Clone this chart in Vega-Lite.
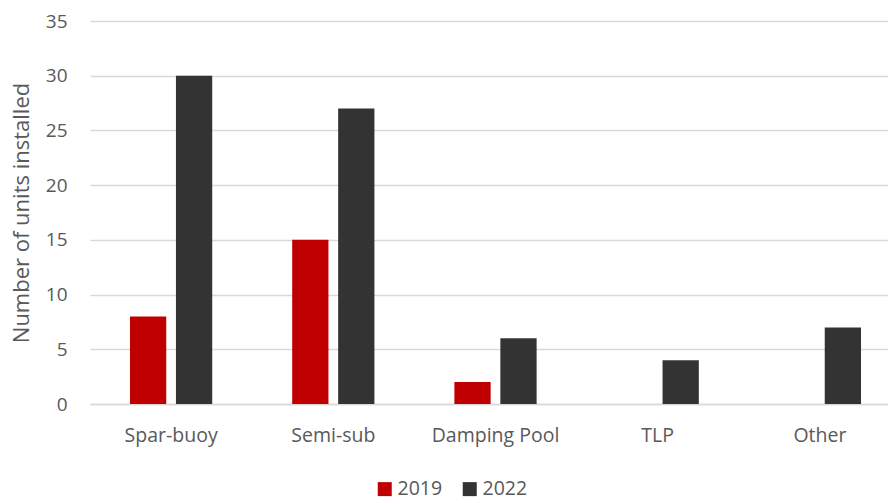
{
  "$schema": "https://vega.github.io/schema/vega-lite/v6.json",
  "width": 811,
  "height": 383,
  "autosize": {"type": "none"},
  "padding": {"left": 90, "top": 21, "right": 0, "bottom": 96},
  "background": "white",
  "data": {
    "values": [
      {"type": "Spar-buoy", "year": "2019", "units": 8},
      {"type": "Spar-buoy", "year": "2022", "units": 30},
      {"type": "Semi-sub", "year": "2019", "units": 15},
      {"type": "Semi-sub", "year": "2022", "units": 27},
      {"type": "Damping Pool", "year": "2019", "units": 2},
      {"type": "Damping Pool", "year": "2022", "units": 6},
      {"type": "TLP", "year": "2022", "units": 4},
      {"type": "Other", "year": "2022", "units": 7}
    ]
  },
  "mark": {"type": "bar"},
  "encoding": {
    "x": {
      "field": "type",
      "type": "nominal",
      "sort": ["Spar-buoy", "Semi-sub", "Damping Pool", "TLP", "Other"],
      "scale": {"paddingInner": 0.493, "paddingOuter": 0.2465},
      "axis": {
        "title": null,
        "labelAngle": 0,
        "labelFont": "Open Sans",
        "labelFontSize": 19.5,
        "labelColor": "#595959",
        "labelPadding": 22,
        "ticks": false,
        "domainColor": "#D9D9D9",
        "domainWidth": 1.5
      }
    },
    "xOffset": {
      "field": "year",
      "type": "nominal",
      "scale": {"domain": ["2019", "2022"], "paddingInner": 0.211, "paddingOuter": 0}
    },
    "y": {
      "field": "units",
      "type": "quantitative",
      "scale": {"domain": [0, 35]},
      "axis": {
        "title": "Number of units installed",
        "titleFont": "Open Sans",
        "titleFontSize": 22,
        "titleFontWeight": "normal",
        "titleColor": "#595959",
        "titlePadding": 12,
        "values": [0, 5, 10, 15, 20, 25, 30, 35],
        "labelFont": "Open Sans",
        "labelFontSize": 19,
        "labelColor": "#595959",
        "labelPadding": 23,
        "ticks": false,
        "domain": false,
        "gridColor": "#D9D9D9",
        "gridWidth": 1.5
      }
    },
    "color": {
      "field": "year",
      "type": "nominal",
      "scale": {"domain": ["2019", "2022"], "range": ["#C00000", "#333333"]},
      "legend": {
        "title": null,
        "orient": "none",
        "direction": "horizontal",
        "legendX": 285,
        "legendY": 458,
        "symbolType": "square",
        "symbolSize": 196,
        "symbolStrokeWidth": 0,
        "labelFont": "Open Sans",
        "labelFontSize": 19.5,
        "labelColor": "#595959",
        "columnPadding": 17,
        "labelOffset": 3
      }
    }
  },
  "config": {"view": {"stroke": null}}
}
